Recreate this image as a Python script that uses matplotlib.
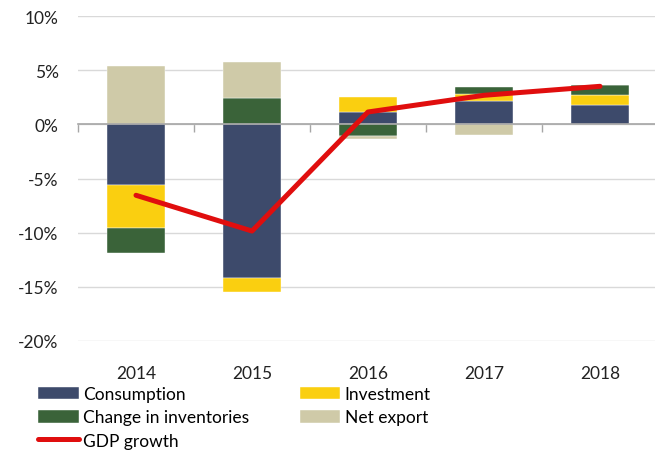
import matplotlib
matplotlib.use("Agg")
import matplotlib.pyplot as plt
import numpy as np
from matplotlib.ticker import FuncFormatter

years = ["2014", "2015", "2016", "2017", "2018"]
consumption = [-5.57, -14.15, 1.17, 2.16, 1.75]
investment = [-4.00, -1.33, 1.32, 0.61, 0.93]
inventories = [-2.28, 2.47, -1.07, 0.71, 0.92]
net_export = [5.42, 3.29, -0.31, -1.01, 0.0]
gdp_growth = [-6.55, -9.85, 1.14, 2.68, 3.51]

series = [
    ("Consumption", consumption, "#3D4A6B"),
    ("Investment", investment, "#FACF10"),
    ("Change in inventories", inventories, "#3A6339"),
    ("Net export", net_export, "#CFCAA8"),
]

plt.rcParams['font.family'] = ['Lato', 'DejaVu Sans']

fig = plt.figure(figsize=(6.55, 4.52), dpi=100)
ax = fig.add_axes([78/655, 1-342/452, 580/655, (342-17)/452])

x = np.arange(len(years))
pos_base = np.zeros(len(years))
neg_base = np.zeros(len(years))
handles = {}
for name, vals, col in series:
    v = np.array(vals, dtype=float)
    bottoms = np.where(v >= 0, pos_base, neg_base)
    b = ax.bar(x, v, width=0.5, bottom=bottoms, color=col, label=name,
               edgecolor='white', linewidth=0.3, zorder=2)
    handles[name] = b
    pos_base = pos_base + np.where(v >= 0, v, 0)
    neg_base = neg_base + np.where(v < 0, v, 0)

ln, = ax.plot(x, gdp_growth, color="#E00E0E", linewidth=3.6, zorder=4,
              solid_capstyle='round', label="GDP growth")

ax.set_xlim(-0.5, len(years) - 0.5)
ax.set_ylim(-20, 10)
ax.set_yticks(np.arange(-20, 11, 5))
ax.yaxis.set_major_formatter(FuncFormatter(lambda v, p: f"{int(v)}%"))
ax.tick_params(axis='y', length=0, pad=14, labelsize=12.5, colors='#222222')
ax.grid(axis='y', color='#D9D9D9', linewidth=1.0, zorder=0)
ax.set_axisbelow(True)

for s in ['top', 'right', 'left']:
    ax.spines[s].set_visible(False)
ax.spines['bottom'].set_position(('data', 0))
ax.spines['bottom'].set_color('#A6A6A6')
ax.spines['bottom'].set_linewidth(1.2)
ax.spines['bottom'].set_zorder(3)
ax.set_xticks(np.arange(-0.5, len(years), 1.0))
ax.set_xticklabels([])
ax.tick_params(axis='x', direction='out', length=6, width=1.0, color='#A6A6A6')

sec = ax.secondary_xaxis(0)
sec.set_xticks(x)
sec.set_xticklabels(years)
sec.tick_params(length=0, pad=17, labelsize=12.5, colors='#222222')
sec.spines['bottom'].set_visible(False)

order = ["Consumption", "Change in inventories", "GDP growth", "Investment", "Net export"]
allh = dict(handles)
allh["GDP growth"] = ln
fig.legend([allh[k] for k in order], order, ncol=2, frameon=False,
           loc='upper left', bbox_to_anchor=(38/655, 1-387/452),
           fontsize=12.5, handlelength=2.35, handleheight=0.75,
           columnspacing=2.9, labelspacing=0.42, handletextpad=0.25,
           borderaxespad=0, borderpad=0)

fig.savefig("out.png", dpi=100)
